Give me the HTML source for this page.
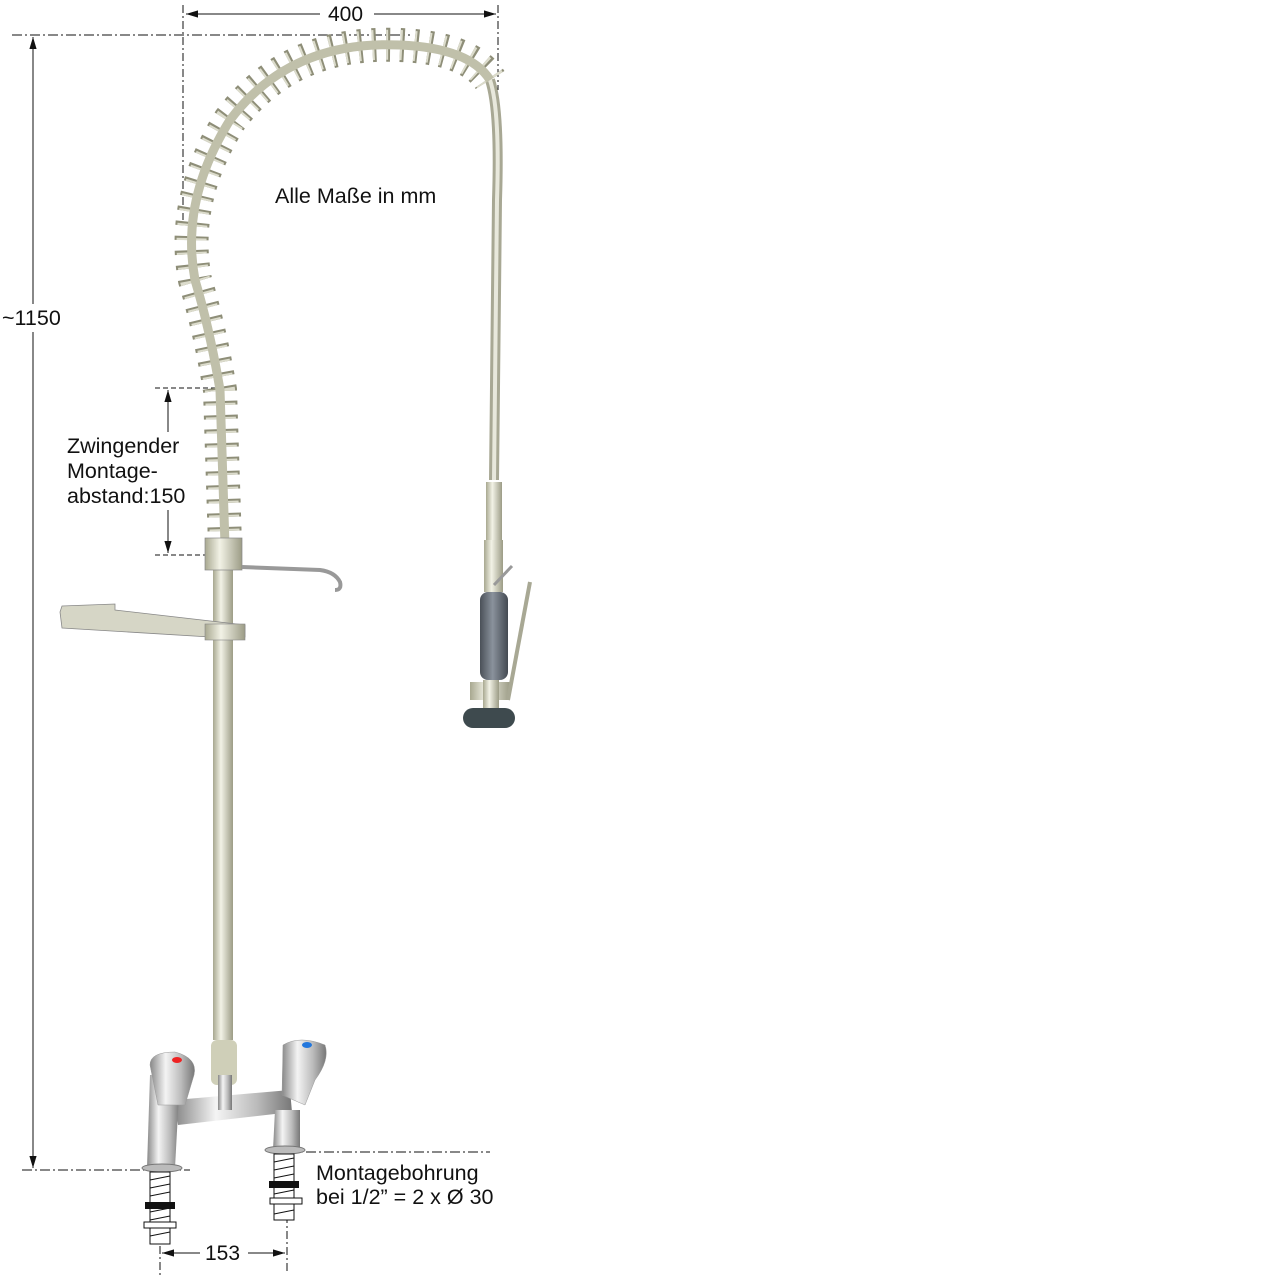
<!DOCTYPE html>
<html><head><meta charset="utf-8"><style>
html,body{margin:0;padding:0;background:#fff}
svg{display:block}
text{font-family:"Liberation Sans",sans-serif;fill:#111}
</style></head><body>
<svg width="1280" height="1280" viewBox="0 0 1280 1280" xmlns="http://www.w3.org/2000/svg">
<defs>
<marker id="a" viewBox="0 0 10 10" refX="10" refY="5" markerWidth="12" markerHeight="12" orient="auto-start-reverse"><path d="M0,2 L10,5 L0,8z" fill="#111"/></marker>
<linearGradient id="col" x1="0" x2="1"><stop offset="0" stop-color="#a8a890"/><stop offset=".4" stop-color="#f2f2e6"/><stop offset="1" stop-color="#9c9c86"/></linearGradient>
<linearGradient id="chr" x1="0" x2="1"><stop offset="0" stop-color="#888"/><stop offset=".35" stop-color="#f4f4f4"/><stop offset=".7" stop-color="#bbb"/><stop offset="1" stop-color="#777"/></linearGradient>
<linearGradient id="gr" x1="0" x2="1"><stop offset="0" stop-color="#4a5058"/><stop offset=".45" stop-color="#8a929c"/><stop offset="1" stop-color="#444a52"/></linearGradient>
</defs>
<g stroke="#111" stroke-width="1" fill="none">
<line x1="183" y1="5" x2="183" y2="220" stroke-dasharray="8,3,2,3"/>
<line x1="498" y1="5" x2="498" y2="90" stroke-dasharray="8,3,2,3"/>
<line x1="12" y1="35" x2="410" y2="35" stroke-dasharray="10,3,2,3"/>
<line x1="186" y1="14" x2="320" y2="14" marker-start="url(#a)"/>
<line x1="374" y1="14" x2="496" y2="14" marker-end="url(#a)"/>
<line x1="33" y1="37" x2="33" y2="305" marker-start="url(#a)"/>
<line x1="33" y1="332" x2="33" y2="1168" marker-end="url(#a)"/>
<line x1="22" y1="1170" x2="190" y2="1170" stroke-dasharray="10,3,2,3"/>
<line x1="270" y1="1152" x2="490" y2="1152" stroke-dasharray="10,3,2,3"/>
<line x1="155" y1="388" x2="215" y2="388" stroke-dasharray="5,3"/>
<line x1="155" y1="555" x2="215" y2="555" stroke-dasharray="5,3"/>
<line x1="168" y1="390" x2="168" y2="432" marker-start="url(#a)"/>
<line x1="168" y1="510" x2="168" y2="553" marker-end="url(#a)"/>
<line x1="160" y1="1230" x2="160" y2="1278" stroke-dasharray="8,3,2,3"/>
<line x1="287" y1="1215" x2="287" y2="1272" stroke-dasharray="8,3,2,3"/>
<line x1="162" y1="1253" x2="200" y2="1253" marker-start="url(#a)"/>
<line x1="248" y1="1253" x2="285" y2="1253" marker-end="url(#a)"/>
</g>
<path d="M490,80 Q500,110 497,200 L494,480" stroke="#a8a894" stroke-width="10" fill="none"/>
<path d="M490,80 Q500,110 497,200 L494,480" stroke="#e8e8dc" stroke-width="4" fill="none"/>
<path d="M225,545 L220,390 Q210,330 195,280 Q180,200 230,120 Q290,40 400,45 Q470,48 490,80" stroke="#8e8e78" stroke-width="34" fill="none" stroke-dasharray="4,10"/>
<path d="M225,545 L220,390 Q210,330 195,280 Q180,200 230,120 Q290,40 400,45 Q470,48 490,80" stroke="#dcdccc" stroke-width="30" fill="none" stroke-dasharray="2,12"/>
<path d="M225,545 L220,390 Q210,330 195,280 Q180,200 230,120 Q290,40 400,45 Q470,48 490,80" stroke="#c0c0aa" stroke-width="9" fill="none"/>
<rect x="213" y="560" width="20" height="480" fill="url(#col)"/>
<rect x="205" y="538" width="37" height="32" fill="url(#col)" stroke="#888" stroke-width=".7"/>
<path d="M242,567 L320,570 Q335,572 340,582 Q342,590 335,590" stroke="#999" stroke-width="4" fill="none"/>
<path d="M60,612 L62,628 L210,637 L245,637 L245,625 L115,610 L115,604 L62,606z" fill="#d6d6c6" stroke="#888" stroke-width=".8"/>
<rect x="205" y="624" width="40" height="16" fill="url(#col)" stroke="#888" stroke-width=".6"/>
<rect x="486" y="482" width="16" height="58" fill="url(#col)"/>
<rect x="484" y="540" width="19" height="52" fill="url(#col)"/>
<line x1="494" y1="585" x2="512" y2="566" stroke="#999" stroke-width="3"/>
<rect x="480" y="592" width="28" height="88" rx="8" fill="url(#gr)"/>
<rect x="470" y="682" width="40" height="18" fill="url(#col)"/>
<rect x="483" y="680" width="16" height="30" fill="url(#col)"/>
<rect x="463" y="708" width="52" height="20" rx="10" fill="#3e4a4e"/>
<line x1="530" y1="582" x2="508" y2="700" stroke="#a8a894" stroke-width="4"/>
<rect x="211" y="1040" width="26" height="45" rx="6" fill="#cfcfb8"/>
<path d="M175,1100 L290,1090 L292,1112 L178,1125z" fill="url(#chr)"/>
<rect x="218" y="1075" width="14" height="35" fill="url(#chr)"/>
<path d="M150,1075 L180,1075 L175,1168 L147,1168z" fill="url(#chr)"/>
<path d="M150,1065 Q150,1052 175,1052 Q198,1058 194,1075 L185,1105 L158,1105z" fill="url(#chr)" stroke="#999" stroke-width=".5"/>
<ellipse cx="177" cy="1060" rx="5" ry="3" fill="#e22"/>
<path d="M275,1110 L300,1110 L300,1150 L273,1150z" fill="url(#chr)"/>
<path d="M283,1045 Q300,1035 325,1045 Q330,1060 315,1080 L305,1105 L282,1095z" fill="url(#chr)" stroke="#999" stroke-width=".5"/>
<ellipse cx="307" cy="1045" rx="5" ry="3" fill="#27d"/>
<ellipse cx="162" cy="1168" rx="20" ry="4" fill="#bbb" stroke="#777"/>
<ellipse cx="285" cy="1150" rx="20" ry="4" fill="#bbb" stroke="#777"/>
<g stroke="#111" stroke-width="1" fill="#fff">
<rect x="150" y="1172" width="20" height="72"/>
<rect x="274" y="1154" width="20" height="66"/>
</g>
<g stroke="#111" stroke-width="1">
<path d="M150,1180 L170,1176 M150,1188 L170,1184 M150,1196 L170,1192 M150,1212 L170,1208 M150,1220 L170,1216 M150,1236 L170,1232 M274,1162 L294,1158 M274,1170 L294,1166 M274,1178 L294,1174 M274,1194 L294,1190 M274,1214 L294,1210"/>
</g>
<rect x="145" y="1202" width="30" height="7" fill="#111"/>
<rect x="269" y="1181" width="30" height="7" fill="#111"/>
<rect x="144" y="1222" width="32" height="6" fill="#fff" stroke="#111"/>
<rect x="270" y="1198" width="32" height="6" fill="#fff" stroke="#111"/>
<rect x="1" y="304" width="66" height="28" fill="#fff"/>
<text x="2" y="325" font-size="21.5">~1150</text>
<text x="328" y="21" font-size="21">400</text>
<text x="275" y="203" font-size="21.5">Alle Maße in mm</text>
<text x="67" y="453" font-size="21.5">Zwingender</text>
<text x="67" y="478" font-size="21.5">Montage-</text>
<text x="67" y="503" font-size="21.5">abstand:150</text>
<text x="205" y="1260" font-size="21">153</text>
<text x="316" y="1180" font-size="21.5">Montagebohrung</text>
<text x="316" y="1204" font-size="21.5">bei 1/2” = 2 x Ø 30</text>
</svg>
</body></html>
